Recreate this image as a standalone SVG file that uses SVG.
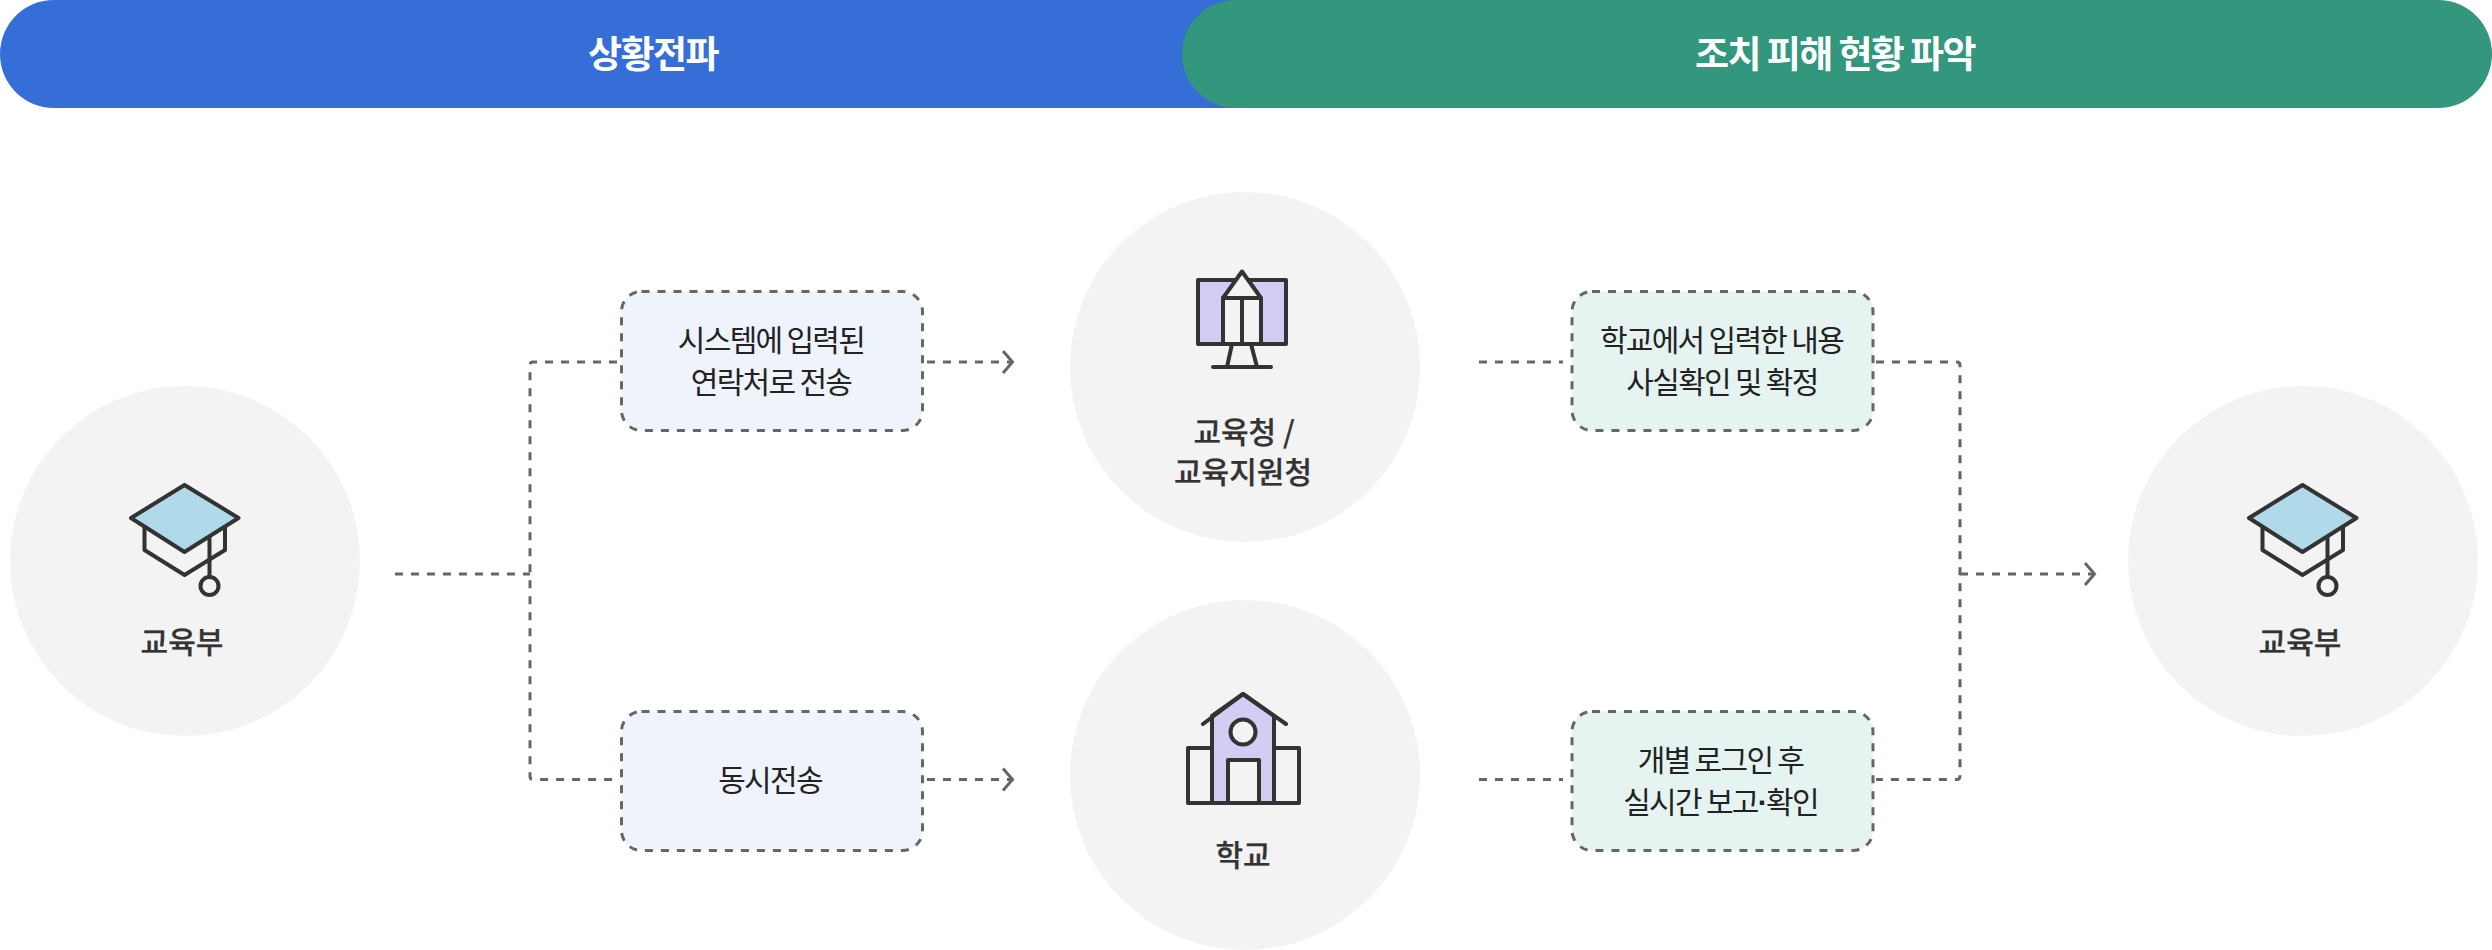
<svg xmlns="http://www.w3.org/2000/svg" width="2492" height="950" viewBox="0 0 2492 950">
<style>
text{font-family:"Noto Sans CJK KR","Noto Sans",sans-serif;text-anchor:middle}
.head{font-size:37px;font-weight:700;fill:#fff;letter-spacing:-1.6px}
.name{font-size:30px;font-weight:500;fill:#333;stroke:#333;stroke-width:.25px;letter-spacing:0}
.lbl{font-size:30px;font-weight:400;fill:#222;letter-spacing:-1.7px}
.dot{font-family:"Liberation Sans",sans-serif;font-weight:700}
.disc{fill:#f3f3f3}
.ic{stroke:#333;stroke-width:4;stroke-linejoin:round;stroke-linecap:round;fill:none}
.box{stroke:#666;stroke-width:3;stroke-dasharray:8 8}
.con{fill:none;stroke:#666;stroke-width:3;stroke-dasharray:8 8}
.tip{fill:none;stroke:#666;stroke-width:3}
</style>
<rect width="2492" height="950" fill="#fff"/>
<g id="header-left"><rect x="0" y="0" width="1300" height="108" rx="54" fill="#366ed8"/><text class="head" x="653" y="68">상황전파</text></g>
<g id="header-right"><rect x="1182" y="0" width="1310" height="108" rx="54" fill="#33977e"/><text class="head" x="1835" y="68">조치 피해 현황 파악</text></g>
<g id="connectors">
<path class="con" d="M395 574H530"/>
<path class="con" d="M617 362H533Q530 362 530 365V776Q530 779.500 533 779.500H617"/>
<path class="con" d="M927 362H1012"/><path class="tip" d="M1003 351L1012.500 362L1003 373"/>
<path class="con" d="M927 779.500H1012"/><path class="tip" d="M1003 768.500L1012.500 779.500L1003 790.500"/>
<path class="con" d="M1479 362H1563"/>
<path class="con" d="M1479 779.500H1563"/>
<path class="con" d="M1876 362H1957Q1960 362 1960 365V776Q1960 779.500 1957 779.500H1876"/>
<path class="con" d="M1960 574H2095"/><path class="tip" d="M2085 563L2094.500 574L2085 585"/>
</g>
<g id="node-moe-left"><circle class="disc" cx="185" cy="561" r="175"/>
<path class="ic" d="M144.500 527V550L184.500 575L225 550V527"/>
<path class="ic" d="M184.500 485L238.500 518L184.500 552L131 518Z" style="fill:#b0d9e9"/>
<path class="ic" d="M209.500 537V577"/><circle class="ic" cx="209.500" cy="586" r="9"/>
<text class="name" x="182" y="653">교육부</text></g>
<g id="node-office"><circle class="disc" cx="1245" cy="367" r="175"/>
<rect class="ic" x="1198" y="280" width="88" height="64" style="fill:#d2cdf2"/>
<path class="ic" d="M1223 344V298L1242 271.500L1261 298V344Z" style="fill:#f3f3f3"/>
<path class="ic" d="M1223 298H1261M1242 298V344M1232 344L1227 367M1251 344L1257 367M1213 367H1271"/>
<text class="name" x="1244" y="443">교육청 /</text><text class="name" x="1243" y="483">교육지원청</text></g>
<g id="node-school"><circle class="disc" cx="1245" cy="775" r="175"/>
<rect class="ic" x="1188" y="748" width="111" height="55"/>
<path class="ic" d="M1212 803V716L1243 694L1274 716V803Z" style="fill:#d2cdf2"/>
<path class="ic" d="M1203 724L1243 694L1286 724"/>
<circle class="ic" cx="1243" cy="732" r="12.500" style="fill:#f3f3f3"/>
<rect class="ic" x="1228" y="760" width="31" height="43" style="fill:#f3f3f3"/>
<text class="name" x="1243" y="866">학교</text></g>
<g id="box-1"><rect class="box" x="621.500" y="291.500" width="301" height="139" rx="20" fill="#eff3fc"/><text class="lbl" x="771" y="351">시스템에 입력된</text><text class="lbl" x="771" y="393">연락처로 전송</text></g>
<g id="box-2"><rect class="box" x="621.500" y="711.500" width="301" height="139" rx="20" fill="#eff3fc"/><text class="lbl" x="770" y="790.500">동시전송</text></g>
<g id="box-3"><rect class="box" x="1572" y="291.500" width="301" height="139" rx="20" fill="#e5f4f0"/><text class="lbl" x="1721.500" y="351">학교에서 입력한 내용</text><text class="lbl" x="1722" y="393">사실확인 및 확정</text></g>
<g id="box-4"><rect class="box" x="1572" y="711.500" width="301" height="139" rx="20" fill="#e5f4f0"/><text class="lbl" x="1720.500" y="771">개별 로그인 후</text><text class="lbl" x="1720.500" y="813">실시간 보고<tspan class="dot">·</tspan>확인</text></g>
<g id="node-moe-right"><circle class="disc" cx="2303" cy="561" r="175"/>
<g transform="translate(2118 0)"><path class="ic" d="M144.500 527V550L184.500 575L225 550V527"/>
<path class="ic" d="M184.500 485L238.500 518L184.500 552L131 518Z" style="fill:#b0d9e9"/>
<path class="ic" d="M209.500 537V577"/><circle class="ic" cx="209.500" cy="586" r="9"/></g>
<text class="name" x="2300" y="653">교육부</text></g>
</svg>
